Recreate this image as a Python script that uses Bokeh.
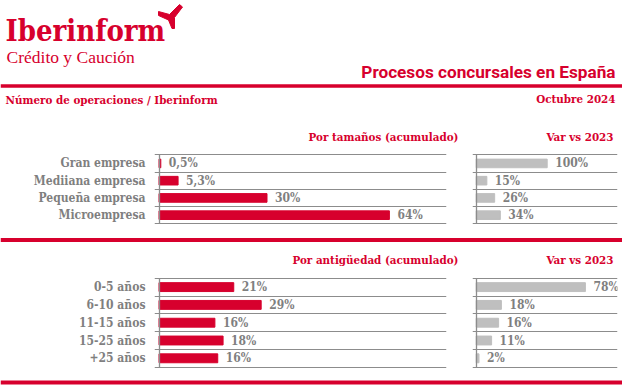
from bokeh.plotting import figure
from bokeh.layouts import column, row
from bokeh.models import (Range1d, FixedTicker, Label, LabelSet, Span, ColumnDataSource,
                          LinearAxis)
from bokeh.core.properties import value
from bokeh.embed import file_html
from bokeh.resources import INLINE

# ---------------- data ----------------
size_cats = ["Gran empresa", "Mediiana empresa", "Pequeña empresa", "Microempresa"]
size_share = [0.5, 5.3, 30, 64]
size_share_labels = ["0,5%", "5,3%", "30%", "64%"]
size_var = [100, 15, 26, 34]
size_var_labels = ["100%", "15%", "26%", "34%"]

age_cats = ["0-5 años", "6-10 años", "11-15 años", "15-25 años", "+25 años"]
age_share = [21, 28.7, 15.7, 18, 16.5]
age_share_labels = ["21%", "29%", "16%", "18%", "16%"]
age_var = [78, 18, 16, 11, 2]
age_var_labels = ["78%", "18%", "16%", "11%", "2%"]

# ---------------- style ----------------
RED = "#d7002d"
GREY_TXT = "#7f7f7f"
GREY_BAR = "#bfbfbf"
GRID = "#8c8c8c"
SERIF = "DejaVu Serif Condensed"
SANS = "Roboto"
W = 622
TS = 11.5   # red section titles
VS = 12     # grey labels
BASE_CORR = 0.33  # baseline correction (fraction of font size)


def blank(width, height):
    p = figure(width=width, height=height, x_range=Range1d(0, width), y_range=Range1d(height, 0),
               output_backend="svg", toolbar_location=None, min_border=0,
               x_axis_location=None, y_axis_location=None)
    p.xgrid.visible = False
    p.ygrid.visible = False
    p.outline_line_color = None
    return p


def lab(p, x, y, text, size, color=RED, font=SERIF, bold=True, align="left"):
    p.add_layout(Label(x=x, y=y - BASE_CORR * size, text=text, text_font=font,
                       text_font_size=f"{size}px",
                       text_font_style="bold" if bold else "normal", text_color=color,
                       text_align=align, text_baseline="alphabetic"))


def bars(cats, vals, labels, color, width, height, bl, br, axis_off, scale, top_pad, row_h, show_cats):
    n = len(cats)
    frame_w = width - bl - br
    top = -0.5 - top_pad / row_h
    bottom = top + height / row_h
    x0 = -axis_off / scale
    p = figure(width=width, height=height, x_range=Range1d(x0, x0 + frame_w / scale),
               y_range=Range1d(bottom, top), output_backend="svg", toolbar_location=None,
               min_border_left=bl, min_border_right=br, min_border_top=0, min_border_bottom=0,
               x_axis_location=None, y_axis_location="left")
    p.outline_line_color = None
    p.xgrid.visible = False
    src = ColumnDataSource(dict(y=list(range(n)), v=vals, t=labels))
    p.hbar(y="y", left=0, right="v", height=0.5, color=color, source=src)
    p.add_layout(LabelSet(x="v", y="y", text="t", x_offset=8, source=src,
                          text_baseline="middle", text_align="left",
                          text_font=value(SERIF), text_font_style="bold",
                          text_font_size=f"{VS}px", text_color=GREY_TXT))
    # category labels on the frame edge
    ax = p.yaxis[0]
    ax.ticker = FixedTicker(ticks=list(range(n)) if show_cats else [])
    ax.major_label_overrides = {i: c for i, c in enumerate(cats)}
    ax.axis_line_color = None
    ax.major_tick_line_color = None
    ax.minor_tick_line_color = None
    ax.major_tick_in = 0
    ax.major_tick_out = 0
    ax.major_label_standoff = 9
    ax.major_label_text_font = SERIF
    ax.major_label_text_font_style = "bold"
    ax.major_label_text_font_size = f"{VS}px"
    ax.major_label_text_color = GREY_TXT
    # axis line at zero, between first and last row boundary
    zero = LinearAxis(fixed_location=0, ticker=FixedTicker(ticks=[]), bounds=(-0.5, n - 0.5),
                      axis_line_color=GRID, axis_line_width=1.3,
                      major_tick_line_color=None, minor_tick_line_color=None)
    p.add_layout(zero, "left")
    p.ygrid.ticker = FixedTicker(ticks=[i - 0.5 for i in range(n + 1)])
    p.ygrid.grid_line_color = GRID
    p.ygrid.grid_line_width = 1.2
    return p


# ---------------- header ----------------
hdr = blank(W, 150)
lab(hdr, 5, 40, "Iberinform", 29)
sx = [158, 169, 179, 182, 174, 174, 171.5, 168, 158]
sy = [11, 14, 4, 6.5, 17, 28, 28, 19.5, 15]
hdr.patch(sx, sy, color=RED)
lab(hdr, 6, 62, "Crédito y Caución", 17.5, font="Liberation Serif", bold=False)
hdr.add_layout(Span(location=85.5, dimension="width", line_color=RED, line_width=3.5))
lab(hdr, 615, 77, "Procesos concursales en España", 17.2, font=SANS, align="right")
lab(hdr, 615, 102, "Octubre 2024", TS, align="right")
lab(hdr, 5, 103.5, "Número de operaciones / Iberinform", TS)
lab(hdr, 458, 140, "Por tamaños (acumulado)", TS, align="right")
lab(hdr, 613, 140, "Var vs 2023", TS, align="right")

# ---------------- section 1 ----------------
s1l = bars(size_cats, size_share, size_share_labels, RED, 466, 78, 154, 20, 4.5, 3.6, 4.3, 17.25, True)
s1r = bars(size_cats, size_var, size_var_labels, GREY_BAR, 156, 78, 6, 5, 3.7, 0.71, 4.3, 17.25, False)

# ---------------- middle ----------------
mid = blank(W, 44)
mid.add_layout(Span(location=11.5, dimension="width", line_color=RED, line_width=4))
lab(mid, 458, 35, "Por antigüedad (acumulado)", TS, align="right")
lab(mid, 613, 35, "Var vs 2023", TS, align="right")

# ---------------- section 2 ----------------
s2l = bars(age_cats, age_share, age_share_labels, RED, 466, 100, 154, 20, 4.5, 3.56, 5.7, 17.8, True)
s2r = bars(age_cats, age_var, age_var_labels, GREY_BAR, 156, 100, 6, 5, 3.7, 1.4, 5.7, 17.8, False)

# ---------------- bottom ----------------
bot = blank(W, 14)
bot.add_layout(Span(location=10, dimension="width", line_color=RED, line_width=4))

layout = column(hdr, row(s1l, s1r, spacing=0), mid, row(s2l, s2r, spacing=0), bot, spacing=0)

open("out.html", "w").write(file_html(layout, INLINE))
